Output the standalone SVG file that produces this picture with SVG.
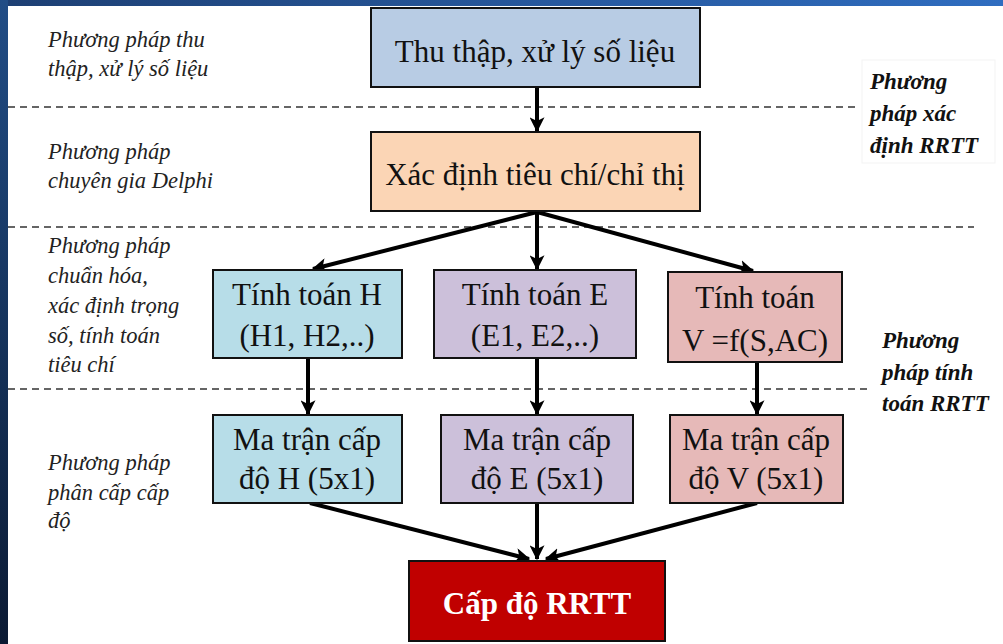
<svg xmlns="http://www.w3.org/2000/svg" width="1003" height="644" viewBox="0 0 1003 644">
<defs>
<linearGradient id="gTop" x1="0" y1="0" x2="1" y2="0">
<stop offset="0" stop-color="#1d3f73"/><stop offset="1" stop-color="#2f6dc0"/>
</linearGradient>
<linearGradient id="gLeft" x1="0" y1="0" x2="0" y2="1">
<stop offset="0" stop-color="#214d86"/><stop offset="1" stop-color="#0b1a33"/>
</linearGradient>
<marker id="ah2" viewBox="0 0 12 12" refX="11" refY="6" markerWidth="15" markerHeight="15" orient="auto" markerUnits="userSpaceOnUse">
<path d="M0,0 L12,6 L0,12 L3,6 z" fill="#000"/>
</marker>
</defs>
<style>
.box{stroke:#111;stroke-width:2}
.bt{font-family:"Liberation Serif","Times New Roman",serif;font-size:31px;fill:#111;text-anchor:middle}
.side{font-family:"Liberation Serif","Times New Roman",serif;font-size:22.5px;font-style:italic;fill:#222}
.rside{font-family:"Liberation Serif","Times New Roman",serif;font-size:23px;font-style:italic;font-weight:bold;fill:#111}
.dash{stroke:#333;stroke-width:1.6;stroke-dasharray:7 5;fill:none}
.con{stroke:#000;stroke-width:4;fill:none;marker-end:url(#ah2)}
</style>
<rect x="0" y="0" width="1003" height="644" fill="#ffffff"/>
<rect x="0" y="0" width="1003" height="6" fill="url(#gTop)"/>
<rect x="0" y="0" width="8" height="644" fill="url(#gLeft)"/>

<g id="guides">
<line class="dash" x1="8" y1="107" x2="857" y2="107"/>
<line class="dash" x1="8" y1="227" x2="974" y2="227"/>
<line class="dash" x1="8" y1="389" x2="872" y2="389"/>
</g>

<g id="side-labels">
<text class="side" x="48" y="47">Phương pháp thu</text>
<text class="side" x="48" y="76">thập, xử lý số liệu</text>
<text class="side" x="48" y="159">Phương pháp</text>
<text class="side" x="48" y="188">chuyên gia Delphi</text>
<text class="side" x="48" y="253">Phương pháp</text>
<text class="side" x="48" y="283">chuẩn hóa,</text>
<text class="side" x="48" y="313">xác định trọng</text>
<text class="side" x="48" y="343">số, tính toán</text>
<text class="side" x="48" y="372">tiêu chí</text>
<text class="side" x="48" y="470">Phương pháp</text>
<text class="side" x="48" y="500">phân cấp cấp</text>
<text class="side" x="48" y="528">độ</text>
</g>

<g id="label-xacdinh">
<rect x="862" y="60" width="133" height="103" fill="#fff" stroke="#f3f3f3" stroke-width="1"/>
<text class="rside" x="870" y="89">Phương</text>
<text class="rside" x="870" y="121">pháp xác</text>
<text class="rside" x="870" y="153">định RRTT</text>
</g>
<g id="label-tinhtoan">
<text class="rside" x="882" y="348">Phương</text>
<text class="rside" x="882" y="380">pháp tính</text>
<text class="rside" x="882" y="411">toán RRTT</text>
</g>

<g id="connectors">
<line class="con" x1="537" y1="87" x2="537" y2="131"/>
<line class="con" x1="537" y1="212" x2="313" y2="269"/>
<line class="con" x1="537" y1="212" x2="537" y2="269"/>
<line class="con" x1="537" y1="212" x2="753" y2="271"/>
<line class="con" x1="308" y1="358" x2="308" y2="414"/>
<line class="con" x1="537" y1="358" x2="537" y2="414"/>
<line class="con" x1="757" y1="362" x2="757" y2="414"/>
<line class="con" x1="310" y1="503" x2="529" y2="559"/>
<line class="con" x1="537" y1="503" x2="537" y2="559"/>
<line class="con" x1="757" y1="503" x2="546" y2="559"/>
</g>

<g id="n-thuthap">
<rect class="box" x="371" y="8" width="329" height="79" fill="#b8cce4"/>
<text class="bt" x="535" y="62">Thu thập, xử lý số liệu</text>
</g>
<g id="n-xacdinh">
<rect class="box" x="371" y="132" width="329" height="79" fill="#fbd5b5"/>
<text class="bt" x="535" y="185">Xác định tiêu chí/chỉ thị</text>
</g>
<g id="n-tinhH">
<rect class="box" x="213" y="270" width="189" height="88" fill="#b7dde8"/>
<text class="bt" x="307" y="305">Tính toán H</text>
<text class="bt" x="307" y="346">(H1, H2,..)</text>
</g>
<g id="n-tinhE">
<rect class="box" x="434" y="270" width="202" height="88" fill="#ccc0da"/>
<text class="bt" x="535" y="305">Tính toán E</text>
<text class="bt" x="535" y="346">(E1, E2,..)</text>
</g>
<g id="n-tinhV">
<rect class="box" x="668" y="272" width="174" height="90" fill="#e6b9b8"/>
<text class="bt" x="755" y="308">Tính toán</text>
<text class="bt" x="755" y="351">V =f(S,AC)</text>
</g>
<g id="n-maH">
<rect class="box" x="213" y="415" width="189" height="88" fill="#b7dde8"/>
<text class="bt" x="307" y="450">Ma trận cấp</text>
<text class="bt" x="307" y="489">độ H (5x1)</text>
</g>
<g id="n-maE">
<rect class="box" x="441" y="415" width="192" height="88" fill="#ccc0da"/>
<text class="bt" x="537" y="450">Ma trận cấp</text>
<text class="bt" x="537" y="489">độ E (5x1)</text>
</g>
<g id="n-maV">
<rect class="box" x="670" y="415" width="173" height="88" fill="#e6b9b8"/>
<text class="bt" x="756" y="450">Ma trận cấp</text>
<text class="bt" x="756" y="489">độ V (5x1)</text>
</g>
<g id="n-capdo">
<rect class="box" x="409" y="561" width="256" height="80" fill="#c00000"/>
<text class="bt" x="537" y="614" style="fill:#fff;font-weight:bold">Cấp độ RRTT</text>
</g>
</svg>
